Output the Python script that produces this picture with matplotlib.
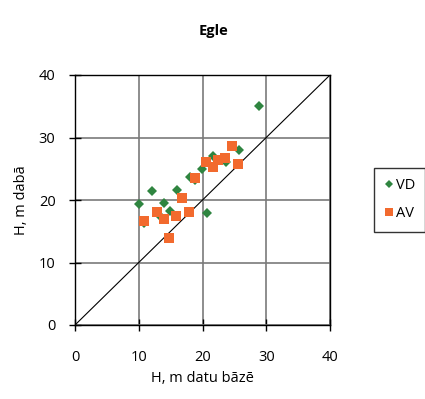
import matplotlib
matplotlib.use("Agg")
import matplotlib.pyplot as plt

# Tree height: database value vs. field measurement
vd_x = [28.8, 25.8, 21.7, 23.7, 19.9, 18.0, 18.9, 12.0, 16.0, 10.0, 14.0, 14.9, 20.7, 10.9, 13.2]
vd_y = [35.0, 28.0, 27.0, 26.1, 25.0, 23.7, 23.2, 21.5, 21.6, 19.3, 19.6, 18.3, 18.0, 16.4, 17.6]
av_x = [24.6, 20.6, 22.5, 23.6, 21.6, 25.6, 18.9, 16.8, 12.9, 15.8, 17.9, 10.8, 13.9, 14.8]
av_y = [28.6, 26.1, 26.4, 26.8, 25.3, 25.8, 23.6, 20.4, 18.1, 17.4, 18.1, 16.7, 16.9, 13.9]
ticks = [0, 10, 20, 30, 40]

GREEN = "#2f8540"
ORANGE = "#f26a2e"

plt.rcParams["font.family"] = ["Open Sans", "DejaVu Sans"]

fig = plt.figure(figsize=(4.25, 3.99), dpi=100)
ax = fig.add_axes([75 / 425, 74 / 399, 255 / 425, 250 / 399])

ax.plot([0, 40], [0, 40], color="black", lw=0.8, zorder=2)
ax.plot(vd_x, vd_y, "D", color=GREEN, ms=4.8, mew=0, ls="none", label="VD", zorder=3)
ax.plot(av_x, av_y, "s", color=ORANGE, ms=6.5, mew=0, ls="none", label="AV", zorder=4)

ax.set_xlim(0, 40)
ax.set_ylim(0, 40)
ax.set_xticks(ticks)
ax.set_yticks(ticks)
ax.grid(True, color="#7a7a7a", lw=1.2)
ax.set_axisbelow(True)
for s in ax.spines.values():
    s.set_color("black")
    s.set_linewidth(1.0)
ax.tick_params(direction="inout", length=8, width=1.0, labelsize=10.5)
ax.tick_params(axis="x", pad=14)
ax.tick_params(axis="y", pad=10)

ax.set_xlabel("H, m datu bāzē", fontsize=10.5, labelpad=4)
ax.set_ylabel("H, m dabā", fontsize=10.5, labelpad=7)
fig.text(213 / 425, 1 - 31 / 399, "Egle", ha="center", va="center",
         fontsize=10.5, fontweight="bold")

fig.legend(loc="upper left", bbox_to_anchor=(374 / 425, 1 - 168 / 399),
           borderaxespad=0, frameon=True, fancybox=False, edgecolor="black",
           fontsize=10.5, markerscale=0.85, handlelength=0.6, handletextpad=0.2,
           borderpad=0.7, labelspacing=0.9)

fig.savefig("out.png", dpi=100)
